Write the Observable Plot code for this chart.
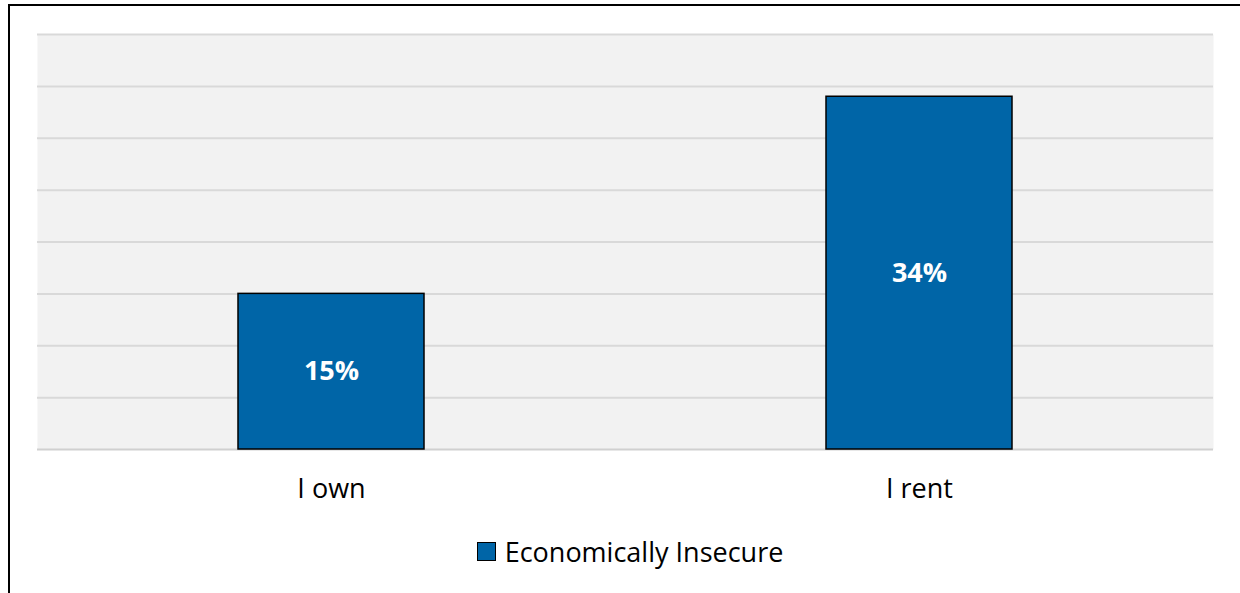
<!DOCTYPE html>
<html>
<head>
<meta charset="utf-8">
<script src="https://cdn.jsdelivr.net/npm/d3@7"></script>
<script src="https://cdn.jsdelivr.net/npm/@observablehq/plot@0.6"></script>
<style>
  html, body { margin: 0; padding: 0; background: #fff; width: 1240px; height: 593px; overflow: hidden; position: relative; }
  #border { position: absolute; left: 8px; top: 4px; right: 0; bottom: 0; border-left: 2px solid #000; border-top: 2px solid #000; pointer-events: none; }
  #chart { position: absolute; left: 0; top: 0; }
  #legend { position: absolute; left: 0; width: 1260px; top: 533px; display: flex; justify-content: center; align-items: center; font-family: "Open Sans", sans-serif; font-size: 27px; color: #000; }
  #legend .sw { width: 19px; height: 19px; background: #0065A7; border: 1.5px solid #000; margin-right: 9px; box-sizing: border-box; }
</style>
</head>
<body>
<div id="chart"></div>
<div id="legend"><span class="sw"></span><span>Economically Insecure</span></div>
<div id="border"></div>
<script>
const categories = ["I own", "I rent"];
const values = [15, 34];
const valueLabels = ["15%", "34%"];
const yTicks = [0, 5, 10, 15, 20, 25, 30, 35, 40];
const seriesName = "Economically Insecure";

const data = categories.map((c, i) => ({category: c, value: values[i], label: valueLabels[i]}));

const chart = Plot.plot({
  width: 1240,
  height: 520,
  marginLeft: 37,
  marginRight: 27,
  marginTop: 34,
  marginBottom: 71,
  style: {fontFamily: "'Open Sans', sans-serif", background: "transparent"},
  x: {domain: categories, paddingInner: 0.684, paddingOuter: 0.342, label: null},
  y: {domain: [0, 40], label: null, axis: null},
  marks: [
    Plot.frame({fill: "#f2f2f2", stroke: null}),
    Plot.ruleY(yTicks.filter(d => d > 0), {stroke: "#d9d9d9", strokeWidth: 2}),
    Plot.ruleY([0], {stroke: "#d0d0d0", strokeWidth: 2}),
    Plot.barY(data, {x: "category", y: "value", fill: "#0065A7", stroke: "#000", strokeWidth: 1.5}),
    Plot.text(data, {x: "category", y: d => d.value / 2, text: "label", fill: "#fff", fontWeight: "bold", fontSize: 27}),
    Plot.axisX({tickSize: 0, tickPadding: 29, fontSize: 27, fill: "#000"})
  ]
});
document.getElementById("chart").appendChild(chart);
</script>
</body>
</html>
